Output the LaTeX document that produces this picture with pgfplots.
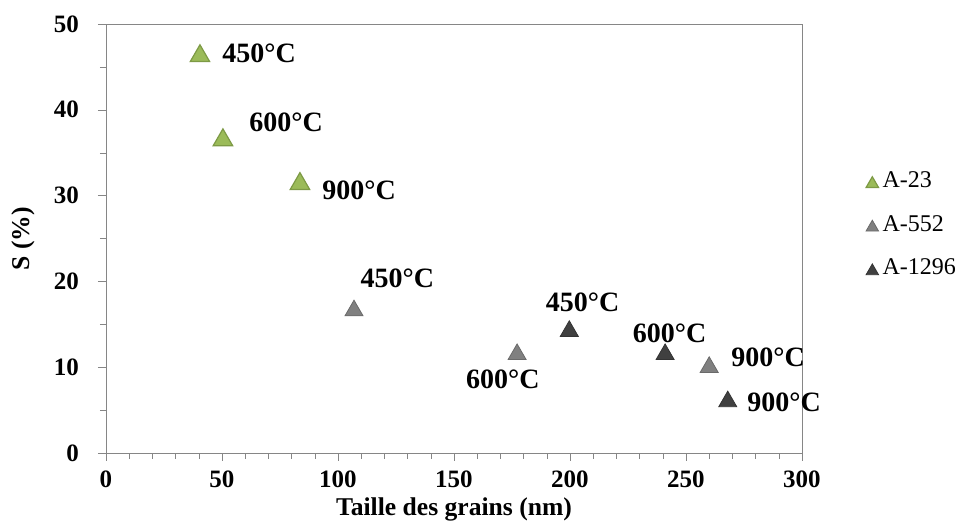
\documentclass[border=0pt]{standalone}
\usepackage{fontspec}
\setmainfont{Liberation Serif}
\usepackage{pgfplots}
\pgfplotsset{compat=1.18}
\definecolor{agreen}{HTML}{9BBB59}
\definecolor{agreenD}{HTML}{7D9A45}
\definecolor{amid}{HTML}{808080}
\definecolor{amidD}{HTML}{6A6A6A}
\definecolor{adark}{HTML}{404040}
\definecolor{adarkD}{HTML}{333333}
\definecolor{axisgray}{HTML}{868686}
\tikzset{lbl/.style={font=\fontsize{14}{14}\selectfont\bfseries, inner sep=0pt}}
\begin{document}
\begin{tikzpicture}
\useasboundingbox (-53pt,-35pt) rectangle (429pt,226.5pt);
\begin{axis}[
  at={(0,0)}, anchor=south west,
  scale only axis, width=348pt, height=214.5pt,
  xmin=0, xmax=300, ymin=0, ymax=50,
  clip=false,
  xtick={0,50,...,300}, minor x tick num=4,
  ytick={0,10,...,50}, minor y tick num=1,
  tick align=outside, tick pos=left,
  major tick length=4pt, minor tick length=3pt,
  axis line style={draw=axisgray},
  tick style={draw=axisgray},
  minor tick style={draw=axisgray},
  /pgf/number format/assume math mode=true,
  ticklabel style={font=\fontsize{12.5}{12.5}\selectfont\bfseries},
  xticklabel style={yshift=-1.5pt},
  yticklabel style={xshift=-6pt},
  xlabel={Taille des grains (nm)},
  ylabel={S (\%)},
  label style={font=\fontsize{12.8}{12.8}\selectfont\bfseries},
  xlabel style={at={(axis description cs:0.5,0)}, anchor=center, yshift=-28.3pt},
  ylabel style={at={(axis description cs:0,0.5)}, anchor=center, yshift=41.5pt},
  legend style={at={(rel axis cs:1.0915,0.666)}, anchor=north west, draw=none, fill=none,
    font=\fontsize{12}{12}\selectfont, row sep=8.4pt, inner sep=0pt},
  legend cell align=left,
  legend image code/.code={\draw[#1, mark size=3.6pt] plot coordinates {(0.12cm,0cm)};},
]
\addplot[only marks, mark=triangle*, mark size=5.6pt,
  mark options={fill=agreen, draw=agreenD, line width=0.6pt, yshift=-1.4pt}]
  coordinates {(40.5,46.6) (50.4,36.8) (83.6,31.7)};
\addlegendentry{A-23}
\addplot[only marks, mark=triangle*, mark size=5.2pt,
  mark options={fill=amid, draw=amidD, line width=0.4pt, yshift=-1.3pt}]
  coordinates {(106.9,16.9) (177.2,11.8) (260.0,10.3)};
\addlegendentry{A-552}
\addplot[only marks, mark=triangle*, mark size=5.2pt,
  mark options={fill=adark, draw=adarkD, line width=0.4pt, yshift=-1.3pt}]
  coordinates {(199.7,14.5) (241.0,11.8) (268.0,6.3)};
\addlegendentry{A-1296}

\node[lbl, anchor=west] at (axis cs:50.0,46.6) {450°C};
\node[lbl, anchor=west] at (axis cs:61.6,38.5) {600°C};
\node[lbl, anchor=west] at (axis cs:93.1,30.65) {900°C};
\node[lbl, anchor=center] at (axis cs:125.6,20.3) {450°C};
\node[lbl, anchor=center] at (axis cs:171.1,8.6) {600°C};
\node[lbl, anchor=west] at (axis cs:269.4,11.2) {900°C};
\node[lbl, anchor=center] at (axis cs:205.4,17.6) {450°C};
\node[lbl, anchor=center] at (axis cs:242.9,14.0) {600°C};
\node[lbl, anchor=west] at (axis cs:276.3,5.9) {900°C};
\end{axis}
\end{tikzpicture}
\end{document}
